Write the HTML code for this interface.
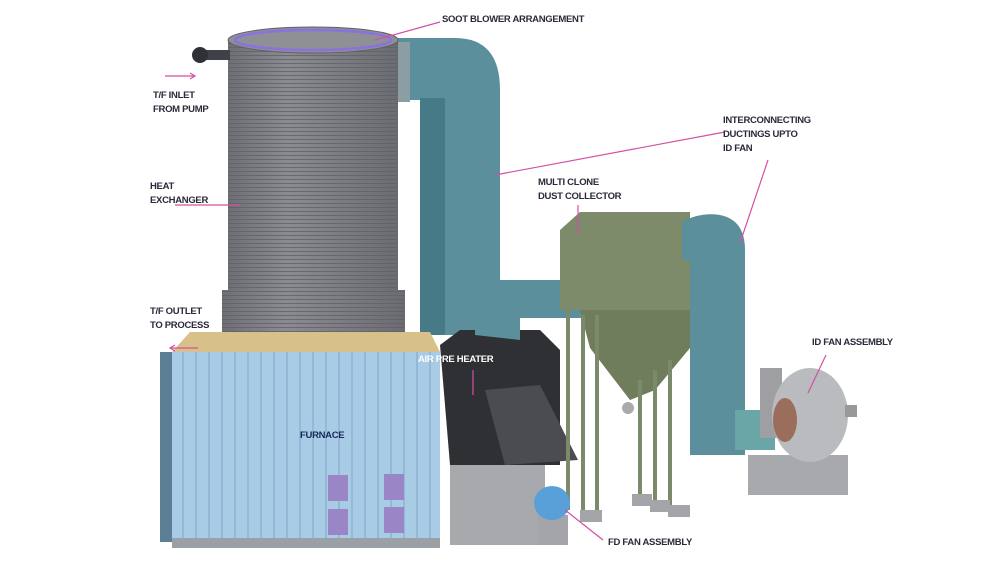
<!DOCTYPE html>
<html><head><style>
html,body{margin:0;padding:0;background:#fff;}
svg{display:block}
text{font-family:"Liberation Sans",sans-serif;font-weight:bold;font-size:9.5px;fill:#2a2a3a;letter-spacing:-0.3px}
</style></head><body>
<svg width="1000" height="562" viewBox="0 0 1000 562" xmlns="http://www.w3.org/2000/svg">
<defs>
<linearGradient id="cyl" x1="0" x2="1"><stop offset="0" stop-color="#6d6f74"/><stop offset="0.35" stop-color="#8a8c91"/><stop offset="1" stop-color="#6a6c71"/></linearGradient>
<pattern id="rings" width="10" height="4" patternUnits="userSpaceOnUse"><rect width="10" height="4" fill="none"/><line x1="0" y1="3.5" x2="10" y2="3.5" stroke="#5f6166" stroke-width="0.8"/></pattern>
<pattern id="stripes" width="13" height="10" patternUnits="userSpaceOnUse"><line x1="1" y1="0" x2="1" y2="10" stroke="#7fa5c4" stroke-width="1"/></pattern>
</defs>
<!-- duct from HX to APH -->
<path d="M398 38 L455 38 Q500 38 500 90 L500 335 L420 335 L420 100 L398 100 Z" fill="#5b8f9b"/>
<rect x="420" y="98" width="25" height="237" fill="#467a86"/>
<rect x="398" y="42" width="12" height="60" fill="#8a9ea3"/>
<!-- heat exchanger -->
<rect x="228" y="40" width="170" height="260" fill="url(#cyl)"/>
<rect x="228" y="40" width="170" height="260" fill="url(#rings)"/>
<rect x="222" y="290" width="183" height="62" fill="url(#cyl)"/>
<rect x="222" y="290" width="183" height="62" fill="url(#rings)"/>
<ellipse cx="313" cy="40" rx="85" ry="13" fill="#8e9095" stroke="#5f6166"/>
<ellipse cx="313" cy="40" rx="78" ry="10" fill="none" stroke="#8a70e0" stroke-width="2.5"/>
<rect x="198" y="50" width="32" height="10" fill="#3f4146"/><circle cx="200" cy="55" r="8" fill="#2f3136"/>
<rect x="198" y="336" width="28" height="10" fill="#3f4146"/><circle cx="200" cy="341" r="7" fill="#2f3136"/>
<!-- furnace -->
<polygon points="172,352 190,332 430,332 440,352" fill="#d8c08a"/>
<rect x="160" y="352" width="14" height="190" fill="#5d7f96"/>
<rect x="172" y="352" width="268" height="188" fill="#a8cbe6"/>
<rect x="172" y="352" width="268" height="188" fill="url(#stripes)"/>
<rect x="172" y="538" width="268" height="10" fill="#9aa0a6"/>
<rect x="328" y="475" width="20" height="26" fill="#9a86c6"/><rect x="384" y="474" width="20" height="26" fill="#9a86c6"/>
<rect x="328" y="509" width="20" height="26" fill="#9a86c6"/><rect x="384" y="507" width="20" height="26" fill="#9a86c6"/>
<!-- air preheater -->
<polygon points="440,345 460,330 540,330 560,350 560,465 450,465" fill="#2e3033"/>
<polygon points="485,390 540,385 578,460 505,465" fill="#4a4c50"/>
<rect x="450" y="465" width="95" height="80" fill="#a7a9ac"/>
<!-- duct to collector -->
<path d="M475 335 L475 300 Q480 280 500 280 L600 280 L600 318 L520 318 L520 340 Z" fill="#5b8f9b"/>
<!-- collector -->
<polygon points="560,230 580,212 690,212 690,310 560,310" fill="#7d8b6a"/>
<polygon points="580,310 690,310 690,348 655,390 630,400 590,348" fill="#6f7d5c"/>
<circle cx="628" cy="408" r="6" fill="#aaa"/>
<g stroke="#7b8a6a" stroke-width="4">
<line x1="568" y1="310" x2="568" y2="510"/><line x1="583" y1="315" x2="583" y2="515"/><line x1="597" y1="315" x2="597" y2="512"/>
<line x1="640" y1="380" x2="640" y2="497"/><line x1="655" y1="370" x2="655" y2="500"/><line x1="670" y1="360" x2="670" y2="505"/>
</g>
<g fill="#a3a5a8"><rect x="580" y="510" width="22" height="12"/><rect x="632" y="494" width="20" height="12"/><rect x="650" y="500" width="20" height="12"/><rect x="668" y="505" width="22" height="12"/></g>
<!-- right duct -->
<path d="M682 222 Q700 212 720 215 Q745 220 745 250 L745 455 L690 455 L690 260 L682 260 Z" fill="#5b8f9b"/>
<rect x="735" y="410" width="40" height="40" fill="#6aa5a8"/>
<!-- ID fan -->
<rect x="760" y="368" width="22" height="70" fill="#9d9fa2"/>
<rect x="748" y="455" width="100" height="40" fill="#a7a9ac"/>
<ellipse cx="810" cy="415" rx="38" ry="47" fill="#b9bbbe"/>
<ellipse cx="785" cy="420" rx="12" ry="22" fill="#9a6e5a"/>
<rect x="845" y="405" width="12" height="12" fill="#999"/>
<!-- FD fan -->
<rect x="538" y="515" width="30" height="30" fill="#a3a5a8"/>
<ellipse cx="552" cy="503" rx="18" ry="17" fill="#5aa0d8"/>
<!-- pointers -->
<g stroke="#d44fa5" stroke-width="1.2" fill="none">
<line x1="440" y1="22" x2="375" y2="40"/>
<line x1="165" y1="76" x2="195" y2="76"/><polyline points="190,73 195,76 190,79"/>
<line x1="175" y1="205" x2="240" y2="205"/>
<line x1="170" y1="348" x2="198" y2="348"/><polyline points="175,345 170,348 175,351"/>
<line x1="725" y1="132" x2="495" y2="175"/>
<line x1="768" y1="160" x2="740" y2="243"/>
<line x1="578" y1="205" x2="578" y2="235"/>
<line x1="473" y1="370" x2="473" y2="395"/>
<line x1="826" y1="355" x2="808" y2="393"/>
<line x1="603" y1="540" x2="565" y2="510"/>
</g>
<text x="442" y="22">SOOT BLOWER ARRANGEMENT</text>
<text x="153" y="98">T/F INLET</text><text x="153" y="112">FROM PUMP</text>
<text x="150" y="189">HEAT</text><text x="150" y="203">EXCHANGER</text>
<text x="150" y="314">T/F  OUTLET</text><text x="150" y="328">TO PROCESS</text>
<text x="723" y="123">INTERCONNECTING</text><text x="723" y="137">DUCTINGS UPTO</text><text x="723" y="151">ID FAN</text>
<text x="538" y="185">MULTI CLONE</text><text x="538" y="199">DUST COLLECTOR</text>
<text x="812" y="345">ID FAN ASSEMBLY</text>
<text x="418" y="362" style="fill:#fff">AIR PRE HEATER</text>
<text x="300" y="438" style="fill:#1a2a5a">FURNACE</text>
<text x="608" y="545">FD FAN ASSEMBLY</text>
</svg>
</body></html>
